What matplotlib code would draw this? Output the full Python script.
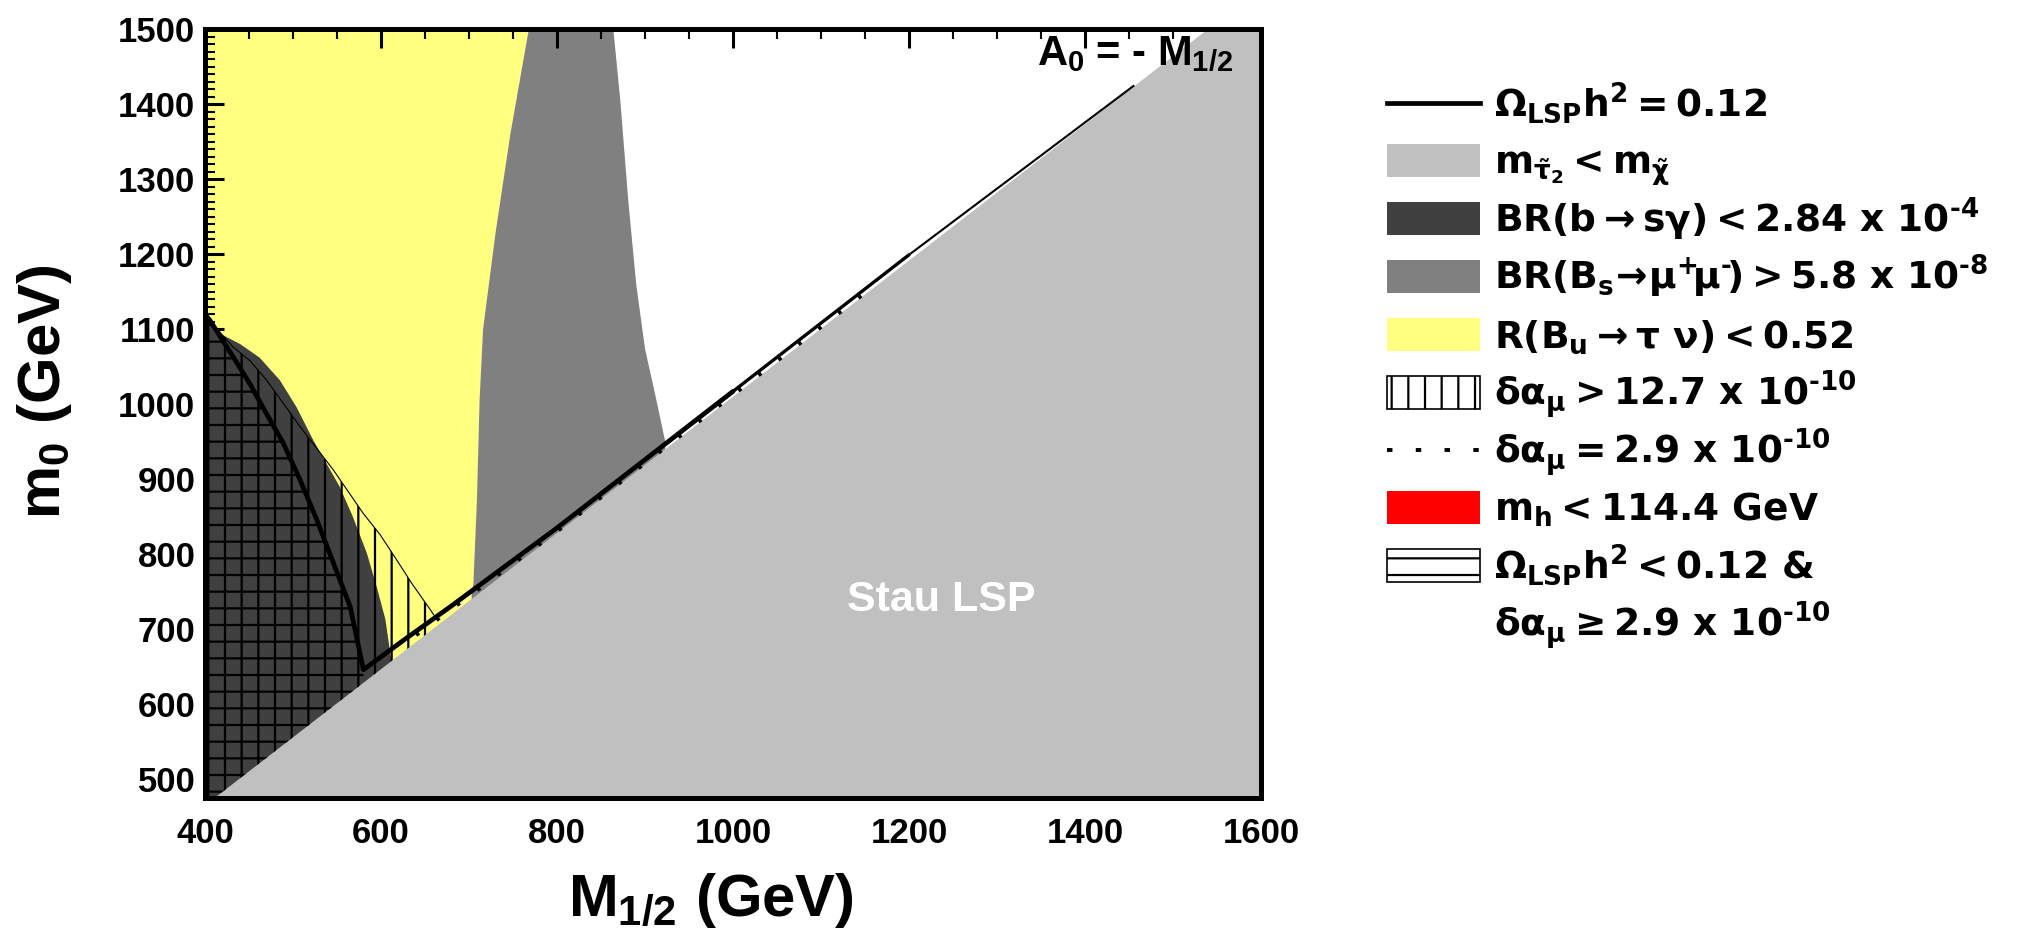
import numpy as np
import matplotlib
matplotlib.use("Agg")
import matplotlib.pyplot as plt
from matplotlib.patches import Polygon, Rectangle
from matplotlib.ticker import MultipleLocator

# ---------------- data ----------------
x_range = [400, 1600]
y_range = [475, 1500]
x_ticks = [400, 600, 800, 1000, 1200, 1400, 1600]
y_ticks = [500, 600, 700, 800, 900, 1000, 1100, 1200, 1300, 1400, 1500]

# stau LSP boundary (m_stau2 < m_chi below this line)
stau_x = [412, 1540]
stau_y = [476, 1500]

# right edge of R(Bu -> tau nu) < 0.52 region (= left edge of Bs band)
bu_x = [768, 747, 730, 716, 712, 709, 705, 703]
bu_y = [1500, 1360, 1227, 1100, 1005, 872, 761, 745]

# right edge of BR(Bs -> mu mu) > 5.8e-8 band
bs_x = [864, 872, 881, 890, 900, 913, 923]
bs_y = [1500, 1404, 1271, 1160, 1074, 1005, 950]

# upper edge of BR(b -> s gamma) < 2.84e-4 region
bsg_x = [400, 402, 417, 440, 462, 485, 504, 523, 538, 553, 568, 584, 595, 605, 612]
bsg_y = [1122, 1120, 1094, 1080, 1062, 1032, 996, 952, 921, 890, 850, 801, 757, 713, 656]

# upper edge of delta a_mu > 12.7e-10 region
g2_x = [400, 432, 451, 470, 489, 508, 527, 546, 563, 580, 599, 618, 635, 656, 660]
g2_y = [1118, 1076, 1058, 1032, 1001, 970, 941, 912, 883, 854, 826, 792, 761, 726, 719]

# Omega h^2 = 0.12 contour: left branch and diagonal branch
omega_left_x = [400, 406, 432, 451, 470, 489, 508, 527, 546, 565, 580]
omega_left_y = [1120, 1111, 1063, 1027, 987, 948, 899, 846, 788, 730, 646]
omega_diag_x = [580, 630, 680, 740, 800, 1000, 1200, 1455]
omega_diag_y = [646, 689, 731, 783, 835, 1017, 1199, 1424]

# delta a_mu = 2.9e-10 contour
g2low_x = [640, 800, 1000, 1150]
g2low_y = [692, 830, 1012, 1148]

HY = "\u2010"  # short hyphen used in the exponents
legend_labels = [
    r"$\mathbf{\Omega_{LSP}h^2 = 0.12}$",
    r"$\mathbf{m_{\tilde{\tau}_2} < m_{\tilde{\chi}}}$",
    r"$\mathbf{BR(b\rightarrow s\gamma) < 2.84\ x\ 10^{" + HY + r"4}}$",
    r"$\mathbf{BR(B_s\!\rightarrow\!\mu^{+}\!\mu^{" + HY + r"}\!) > 5.8\ x\ 10^{" + HY + r"8}}$",
    r"$\mathbf{R(B_u\rightarrow \tau\ \nu) < 0.52}$",
    r"$\mathbf{\delta\alpha_\mu > 12.7\ x\ 10^{" + HY + r"10}}$",
    r"$\mathbf{\delta\alpha_\mu = 2.9\ x\ 10^{" + HY + r"10}}$",
    r"$\mathbf{m_h < 114.4\ GeV}$",
    r"$\mathbf{\Omega_{LSP}h^2 < 0.12\ }$&",
    r"$\mathbf{\delta\alpha_\mu \geq 2.9\ x\ 10^{" + HY + r"10}}$",
]

# ---------------- style ----------------
C_STAU = "#c0c0c0"
C_BSG = "#404040"
C_BS = "#808080"
C_BU = "#ffff80"
C_MH = "#ff0000"

plt.rcParams.update({
    "font.family": ["Liberation Sans", "DejaVu Sans"],
    "font.weight": "bold",
    "mathtext.fontset": "custom",
    "mathtext.rm": "Liberation Sans:bold",
    "mathtext.it": "Liberation Sans:bold",
    "mathtext.bf": "Liberation Sans:bold",
    "mathtext.sf": "Liberation Sans:bold",
    "hatch.linewidth": 1.6,
    "hatch.color": "black",
})

W, H = 2018, 948
fig = plt.figure(figsize=(W / 100, H / 100), dpi=100)
ax = fig.add_axes([205 / W, 1 - 798 / H, 1056 / W, 769 / H])
ax.set_xlim(*x_range)
ax.set_ylim(*y_range)
xmin, xmax = x_range
ymin, ymax = y_range

# yellow: R(Bu -> tau nu)
yel = [(xmin, ymin), (xmin, ymax)] + list(zip(bu_x, bu_y)) + [(bu_x[-1], ymin)]
ax.add_patch(Polygon(yel, closed=True, facecolor=C_BU, edgecolor="none", zorder=1))

# medium gray: Bs -> mu mu
band = list(zip(bu_x, bu_y)) + [(bu_x[-1], ymin), (bs_x[-1], ymin)] + list(zip(bs_x, bs_y))[::-1]
ax.add_patch(Polygon(band, closed=True, facecolor=C_BS, edgecolor="none", zorder=1))

# dark: b -> s gamma
dark = [(xmin, ymin)] + list(zip(bsg_x, bsg_y)) + [(bsg_x[-1], ymin)]
ax.add_patch(Polygon(dark, closed=True, facecolor=C_BSG, edgecolor="none", zorder=2))

# light gray: stau LSP
stau = list(zip(stau_x, stau_y)) + [(xmax, ymax), (xmax, ymin), (stau_x[0], ymin)]
ax.add_patch(Polygon(stau, closed=True, facecolor=C_STAU, edgecolor="none", zorder=3))

# vertical hatch: delta a_mu > 12.7e-10
y_end = np.interp(g2_x[-1], stau_x, stau_y)
vh = [(xmin, ymin)] + list(zip(g2_x, g2_y)) + [(g2_x[-1], y_end), (stau_x[0], stau_y[0])]
ax.add_patch(Polygon(vh, closed=True, facecolor="none", edgecolor="black",
                     hatch="|", linewidth=0, zorder=4))
ax.plot(g2_x, g2_y, color="black", lw=0.8, zorder=5)

# horizontal hatch: Omega h^2 < 0.12 & delta a_mu >= 2.9e-10
y_c = np.interp(omega_left_x[-1], stau_x, stau_y)
hh = [(xmin, ymin)] + list(zip(omega_left_x, omega_left_y)) + \
     [(omega_left_x[-1], y_c), (stau_x[0], stau_y[0])]
ax.add_patch(Polygon(hh, closed=True, facecolor="none", edgecolor="black",
                     hatch="-", linewidth=0, zorder=4))

# delta a_mu = 2.9e-10 dashed contour
ax.plot(g2low_x, g2low_y, color="black", lw=2.6, linestyle=(0, (1.0, 6.0)),
        zorder=5)

# Omega h^2 = 0.12 contour (thins towards large M_1/2)
ax.plot(omega_left_x + omega_diag_x[1:6], omega_left_y + omega_diag_y[1:6],
        color="black", lw=3.4, solid_joinstyle="round", solid_capstyle="round", zorder=6)
ax.plot(omega_diag_x[5:7], omega_diag_y[5:7], color="black", lw=2.4,
        solid_capstyle="round", zorder=6)
ax.plot(omega_diag_x[6:], omega_diag_y[6:], color="black", lw=1.5, zorder=6)

# annotations
ax.text(1237, 739, "Stau LSP", color="white", fontsize=31, fontweight="bold",
        ha="center", va="center", zorder=7)
ax.text(0.974, 0.953, "$A_0$ = - $M_{1/2}$", transform=ax.transAxes,
        fontsize=30, ha="right", va="baseline", zorder=7)

# axes styling
ax.set_xticks(x_ticks)
ax.set_yticks(y_ticks)
ax.xaxis.set_minor_locator(MultipleLocator(50))
ax.yaxis.set_minor_locator(MultipleLocator(10))
ax.tick_params(which="both", direction="in", top=True, right=True, zorder=8)
ax.tick_params(which="major", length=14, width=2.2, labelsize=25)
ax.tick_params(which="minor", length=7, width=1.5)
ax.tick_params(axis="x", which="major", pad=14)
ax.tick_params(axis="y", which="major", pad=7)
for lab in ax.get_xticklabels() + ax.get_yticklabels():
    lab.set_fontweight("bold")
for sp in ax.spines.values():
    sp.set_linewidth(3.6)
    sp.set_zorder(9)

fig.text(711 / W, 1 - 900 / H, r"$M_{1/2}\ (GeV)$", fontsize=43,
         ha="center", va="center")
fig.text(45 / W, 1 - 392 / H, r"$m_0\ (GeV)$", fontsize=43, rotation=90,
         ha="center", va="center")

# ---------------- legend (manual, pixel coordinates) ----------------
lax = fig.add_axes([0, 0, 1, 1], facecolor="none")
lax.set_xlim(0, W)
lax.set_ylim(H, 0)
lax.axis("off")

px0, pw, ph = 1387, 93, 33
row0, dy = 103, 57.8
kinds = ["line", C_STAU, C_BSG, C_BS, C_BU, "vhatch", "dash", C_MH, "hhatch", None]
for i, (kind, lab) in enumerate(zip(kinds, legend_labels)):
    yc = row0 + dy * i
    if kind == "line":
        lax.plot([px0, px0 + pw], [yc, yc], color="black", lw=3.4)
    elif kind == "dash":
        lax.plot([px0, px0 + pw], [yc, yc], color="black", lw=2.8,
                 linestyle=(0, (1.4, 6.0)))
    elif kind == "vhatch":
        lax.add_patch(Rectangle((px0, yc - ph / 2), pw, ph, facecolor="white",
                                edgecolor="black", hatch="|", lw=1.2))
    elif kind == "hhatch":
        lax.add_patch(Rectangle((px0, yc - ph / 2), pw, ph, facecolor="white",
                                edgecolor="black", hatch="-", lw=1.2))
    elif kind is not None:
        lax.add_patch(Rectangle((px0, yc - ph / 2), pw, ph, facecolor=kind,
                                edgecolor="none"))
    lax.text(1494, yc + 13, lab, fontsize=27, ha="left", va="baseline",
             math_fontfamily="dejavusans", family="DejaVu Sans", fontweight="bold")

fig.savefig("out.png", dpi=100)
